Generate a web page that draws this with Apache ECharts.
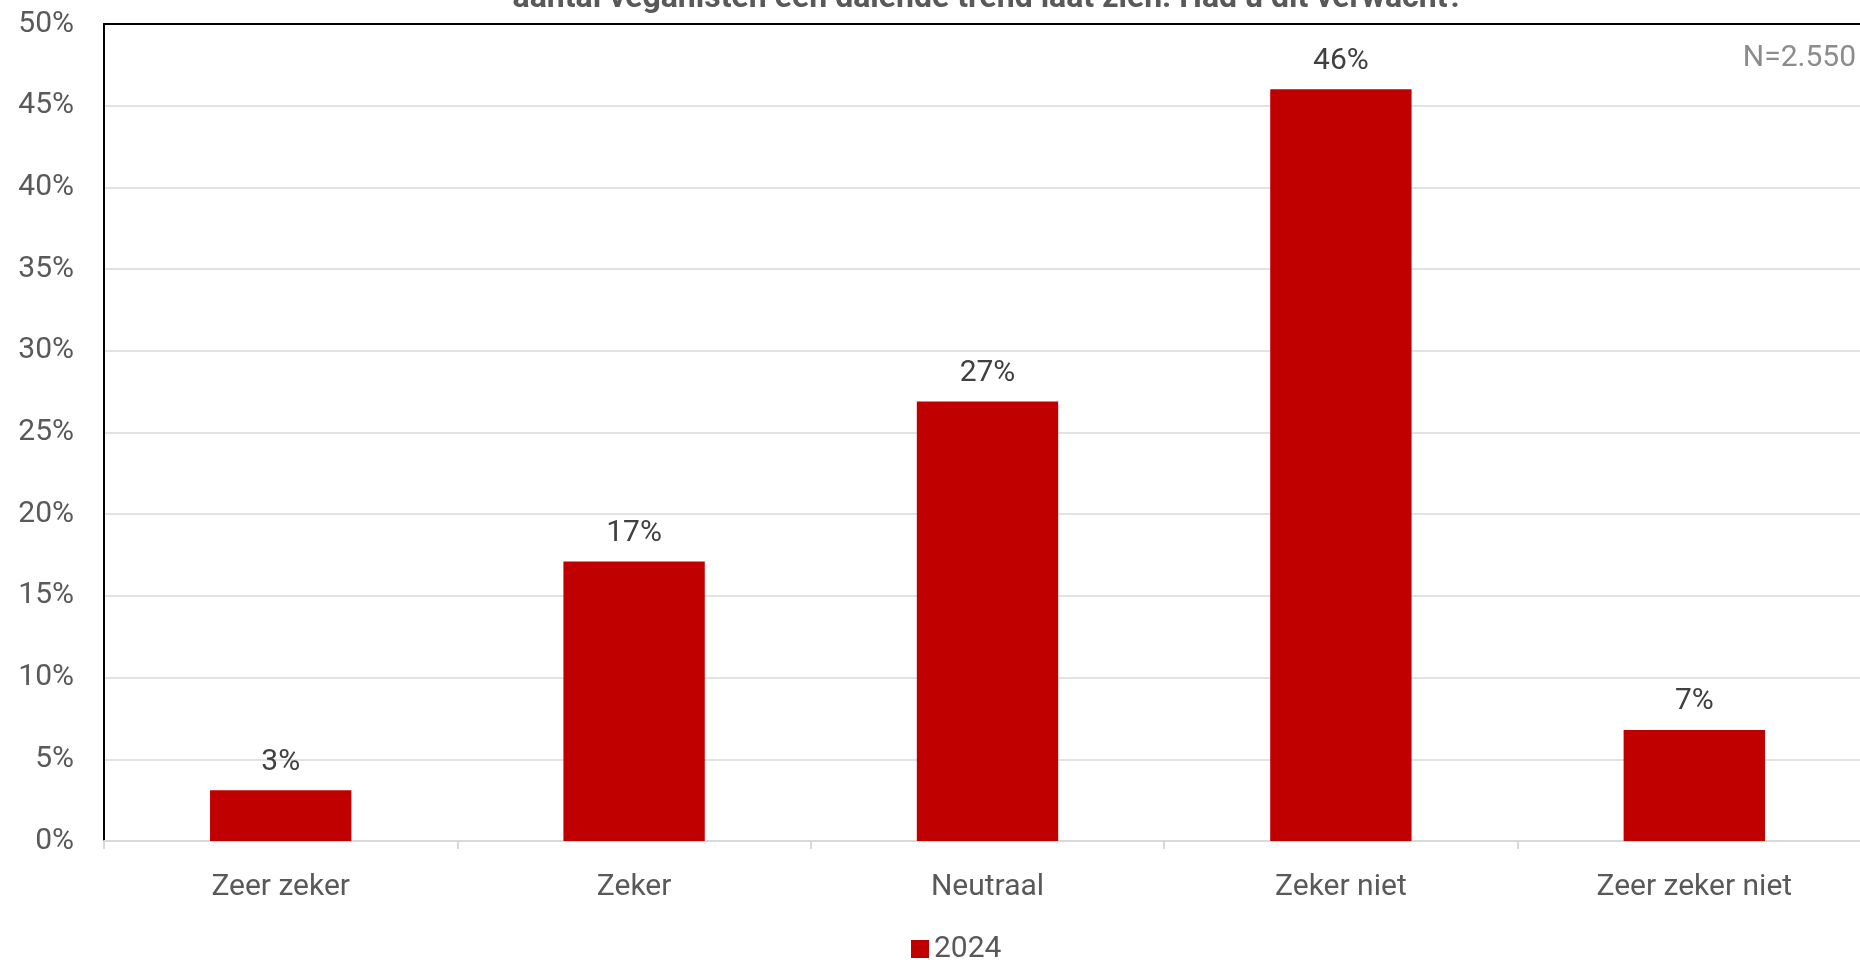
<!DOCTYPE html>
<html>
<head>
<meta charset="utf-8">
<style>
  html, body { margin: 0; padding: 0; background: #fff; }
  #chart { width: 1860px; height: 960px; }
</style>
<script src="https://cdn.jsdelivr.net/npm/echarts@6/dist/echarts.min.js"></script>
</head>
<body>
<div id="chart"></div>
<script>
// categorieen en waarden (in procenten)
const categories = ['Zeer zeker', 'Zeker', 'Neutraal', 'Zeker niet', 'Zeer zeker niet']
const values2024 = [3.1, 17.1, 26.9, 46.0, 6.8]
const seriesName = '2024'
const titleText = 'aantal veganisten een dalende trend laat zien. Had u dit verwacht?'
const noteText = 'N=2.550'

const font = 'Roboto, "DejaVu Sans Condensed", sans-serif'
const myChart = echarts.init(document.getElementById('chart'))
myChart.setOption({
  animation: false,
  color: ['#c00000'],
  textStyle: { fontFamily: font },
  title: {
    text: titleText,
    left: 983,
    textAlign: 'center',
    top: -22,
    textStyle: { fontSize: 32, fontWeight: 'bold', color: '#595959', fontFamily: font }
  },
  graphic: [{
    type: 'text',
    right: 4,
    top: 43,
    style: { text: noteText, fontSize: 30, fill: '#8c8c8c', fontFamily: font }
  }],
  grid: {
    left: 104,
    width: 1767,
    top: 24,
    bottom: 119,
    containLabel: false,
    outerBoundsMode: 'none'
  },
  legend: {
    data: [seriesName],
    left: 906,
    top: 929,
    icon: 'rect',
    itemWidth: 18,
    itemHeight: 18,
    itemGap: 9,
    textStyle: { fontSize: 30, color: '#595959', fontFamily: font }
  },
  xAxis: [
    {
      type: 'category',
      data: categories,
      axisLine: { lineStyle: { color: '#d9d9d9', width: 2 } },
      axisTick: { show: true, length: 8, lineStyle: { color: '#d9d9d9', width: 2 } },
      axisLabel: { fontSize: 30, color: '#595959', margin: 31, fontFamily: font }
    },
    {
      type: 'category',
      position: 'top',
      data: categories,
      axisLine: { lineStyle: { color: '#000', width: 2 } },
      axisTick: { show: false },
      axisLabel: { show: false }
    }
  ],
  yAxis: {
    type: 'value',
    min: 0,
    max: 50,
    interval: 5,
    axisLine: { show: true, lineStyle: { color: '#000', width: 2 } },
    axisTick: { show: false },
    splitLine: { lineStyle: { color: '#d9d9d9', width: 1.5 } },
    axisLabel: {
      fontSize: 30,
      color: '#595959',
      margin: 30,
      fontFamily: font,
      formatter: function (v) { return v + '%' }
    }
  },
  series: [{
    name: seriesName,
    type: 'bar',
    data: values2024,
    barWidth: '40%',
    label: {
      show: true,
      position: 'top',
      distance: 13,
      fontSize: 30,
      color: '#404040',
      fontFamily: font,
      formatter: function (p) { return Math.round(p.value) + '%' }
    }
  }]
})
window.addEventListener('resize', function () {
  myChart.resize()
})
</script>
</body>
</html>
